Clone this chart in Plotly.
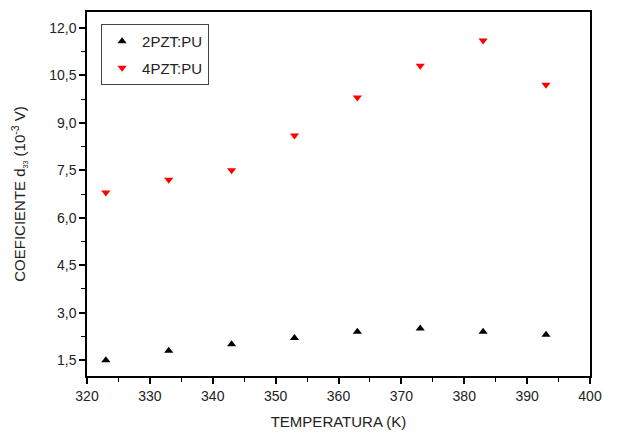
import plotly.graph_objects as go

temps = [323, 333, 343, 353, 363, 373, 383, 393]
pzt2 = [1.5, 1.8, 2.0, 2.2, 2.4, 2.5, 2.4, 2.3]
pzt4 = [6.8, 7.2, 7.5, 8.6, 9.8, 10.8, 11.6, 10.2]
y_ticks = [1.5, 3.0, 4.5, 6.0, 7.5, 9.0, 10.5, 12.0]
x_ticks = [320, 330, 340, 350, 360, 370, 380, 390, 400]

fig = go.Figure()
fig.add_trace(go.Scatter(x=temps, y=pzt2, mode="markers", name="2PZT:PU", legendgroup="a",
                         marker=dict(symbol="triangle-up", size=8, color="black")))
fig.add_trace(go.Scatter(x=temps, y=pzt4, mode="markers", name="4PZT:PU", legendgroup="b",
                         marker=dict(symbol="triangle-down", size=8, color="#ff0000")))

font = "Liberation Sans, Arial, sans-serif"
axis_common = dict(showline=True, linecolor="black", linewidth=1.5, mirror=True,
                   ticks="outside", ticklen=6, tickwidth=1.5, tickcolor="black",
                   showgrid=False, zeroline=False, automargin=False,
                   tickfont=dict(family=font, size=14, color="#222"))

fig.update_layout(
    width=615, height=425,
    margin=dict(l=79, r=33, t=4, b=57),
    paper_bgcolor="white", plot_bgcolor="white",
    separators=",.",
    showlegend=True,
    legend=dict(x=0.028, y=0.967, xanchor="left", yanchor="top",
                bordercolor="#444", borderwidth=1, bgcolor="white",
                font=dict(family=font, size=15, color="#222"),
                itemsizing="trace", tracegroupgap=4),
    xaxis=dict(range=[320, 400], tickvals=x_ticks,
               minor=dict(dtick=5, ticks="outside", ticklen=4, tickcolor="black", tickwidth=1),
               title=dict(text="TEMPERATURA (K)", font=dict(family=font, size=15, color="#222"), standoff=14),
               **axis_common),
    yaxis=dict(range=[1.0, 12.5], tickvals=y_ticks, tickformat=".1f",
               minor=dict(dtick=0.75, tick0=0.75, ticks="outside", ticklen=4, tickcolor="black", tickwidth=1),
               title=dict(text="COEFICIENTE d<sub><span style='font-size:7px'>33</span></sub> (10<sup>-3</sup> V)",
                          font=dict(family=font, size=15, color="#222"), standoff=20),
               **axis_common),
)

fig.write_html("out.html")
